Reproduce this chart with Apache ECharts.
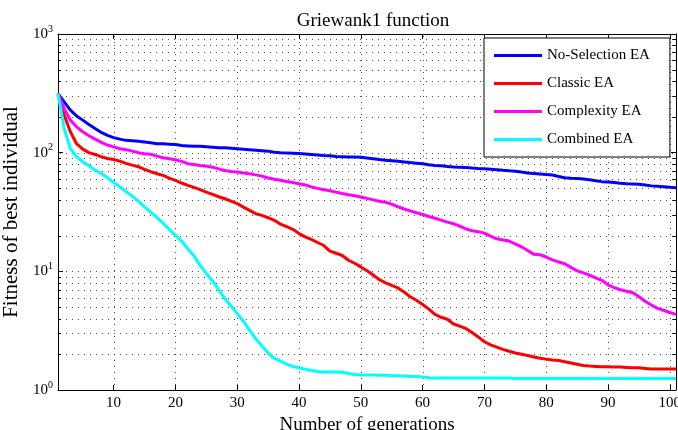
<!DOCTYPE html>
<html>
<head>
<meta charset="utf-8">
<script src="https://cdn.jsdelivr.net/npm/echarts@6/dist/echarts.min.js"></script>
<style>
  html, body { margin: 0; padding: 0; background: #fff; overflow: hidden; }
  #chart { width: 678px; height: 430px; }
</style>
</head>
<body>
<div id="chart"></div>
<script>
// generations on the x axis
const generations = [
  1, 2, 3, 4, 5, 6, 7, 8, 9, 10, 11, 12, 13, 14, 15, 16, 17, 18, 19, 20,
  21, 22, 23, 24, 25, 26, 27, 28, 29, 30, 31, 32, 33, 34, 35, 36, 37, 38, 39, 40,
  41, 42, 43, 44, 45, 46, 47, 48, 49, 50, 51, 52, 53, 54, 55, 56, 57, 58, 59, 60,
  61, 62, 63, 64, 65, 66, 67, 68, 69, 70, 71, 72, 73, 74, 75, 76, 77, 78, 79, 80,
  81, 82, 83, 84, 85, 86, 87, 88, 89, 90, 91, 92, 93, 94, 95, 96, 97, 98, 99, 100, 101
];

const noSelection = [
  315, 268, 228, 204, 188, 173, 160, 148, 140, 134, 130, 127, 126, 125, 123, 121, 119, 119, 118, 117,
  115, 114, 113, 113, 112, 111, 110, 110, 109, 108, 107, 106, 105, 104, 103, 101, 100, 99.5, 99, 98.3,
  97.5, 96.5, 95.5, 94.7, 94, 93, 92.5, 92, 91.8, 91.6, 90, 89, 87.5, 86.5, 85.5, 84.5, 83.5, 82.5, 81.6, 80.5,
  79, 78, 77.5, 76.5, 75.8, 75.5, 75, 74.3, 73.7, 73.2, 72.5, 71.8, 71, 70.3, 69.8, 68.6, 67.5, 66.8, 66, 65.6,
  64.8, 63, 61.5, 61, 60.7, 60, 59, 58, 57, 56.5, 56, 55.3, 54.7, 54.5, 54.3, 53.5, 52.5, 52, 51.5, 51, 50.7
];

const classic = [
  315, 207, 150, 119, 107, 100, 96.6, 92.3, 89.4, 87.7, 84.9, 81.2, 78.5, 76.1, 72.2, 69.1, 66.5, 64.3, 61, 58.4,
  55.5, 53, 51, 48.8, 46.5, 44.5, 42.5, 40.9, 39, 37.2, 34.8, 32.6, 30.6, 29.6, 28.3, 26.9, 25, 23.8, 22.6, 20.8,
  19.5, 18.6, 17.5, 16.5, 14.8, 14.2, 13.6, 12.4, 11.7, 10.9, 10.1, 9.3, 8.5, 8.0, 7.6, 7.25, 6.7, 6.1, 5.7, 5.26,
  4.8, 4.33, 4.1, 3.95, 3.6, 3.45, 3.3, 3.05, 2.8, 2.55, 2.4, 2.3, 2.2, 2.12, 2.05, 2.0, 1.95, 1.9, 1.85, 1.82,
  1.79, 1.77, 1.73, 1.69, 1.65, 1.61, 1.59, 1.58, 1.57, 1.57, 1.56, 1.56, 1.55, 1.54, 1.54, 1.52, 1.5, 1.5, 1.5, 1.5, 1.5
];

const complexity = [
  315, 235, 188, 165, 150, 139, 130, 122, 116, 112, 108, 106, 103, 100, 98, 97, 93.5, 90.6, 89, 87.2,
  84.4, 80.7, 79.5, 78, 77, 75.5, 73, 70.8, 69.5, 68.6, 67.5, 66.4, 65, 63.4, 61.1, 59.8, 58.6, 57.2, 56, 54.7,
  53.5, 51.5, 50, 48.7, 47.8, 46.5, 45.3, 44.2, 43.3, 42.3, 41.2, 40, 39, 38.2, 36.8, 35, 33.5, 32.3, 31.2, 30.2,
  29, 28, 27, 26, 25.2, 24, 22.8, 22, 21.6, 21, 19.8, 18.8, 18.4, 18, 17, 16.1, 15, 13.9, 13.8, 13.2,
  12.5, 12, 11.6, 10.8, 10.1, 9.7, 9.3, 8.8, 8.4, 7.7, 7.3, 7, 6.8, 6.6, 6.1, 5.6, 5.2, 4.87, 4.7, 4.5, 4.34
];

const combined = [
  315, 160, 108, 92.3, 83.8, 77.5, 71.2, 66.8, 61.5, 56.1, 51.6, 47, 43, 39, 35, 31.5, 28.5, 25.5, 22.5, 20.1,
  18, 15.5, 13.5, 11.2, 9.6, 8.3, 7.0, 5.9, 5.1, 4.4, 3.8, 3.2, 2.7, 2.35, 2.05, 1.85, 1.75, 1.65, 1.58, 1.54,
  1.5, 1.46, 1.43, 1.42, 1.42, 1.42, 1.41, 1.38, 1.35, 1.34, 1.34, 1.34, 1.33, 1.33, 1.32, 1.32, 1.31, 1.3, 1.3, 1.29,
  1.27, 1.26, 1.26, 1.26, 1.26, 1.26, 1.26, 1.26, 1.26, 1.26, 1.26, 1.26, 1.26, 1.26, 1.25, 1.25, 1.25, 1.25, 1.25, 1.25,
  1.25, 1.25, 1.25, 1.25, 1.25, 1.25, 1.25, 1.25, 1.25, 1.25, 1.25, 1.25, 1.25, 1.25, 1.25, 1.25, 1.25, 1.25, 1.25, 1.25, 1.25
];

const seriesNames = ['No-Selection EA', 'Classic EA', 'Complexity EA', 'Combined EA'];
const seriesColors = ['#0000ff', '#ff0000', '#ff00ff', '#00ffff'];

// tick values
const xTicks = [10, 20, 30, 40, 50, 60, 70, 80, 90, 100];
const yMajor = [10, 100];
const yMinor = [2, 3, 4, 5, 6, 7, 8, 9, 20, 30, 40, 50, 60, 70, 80, 90, 200, 300, 400, 500, 600, 700, 800, 900];

const X_MIN = 1;
const X_MAX = 101;
const FONT = '"Liberation Serif", "DejaVu Serif", serif';
const GRID_COLOR = '#222';
const GRID_DASH = [1, 5];

const chart = echarts.init(document.getElementById('chart'), null, { width: 678, height: 430 });

const toPairs = (vals) => vals.map((v, i) => [generations[i], v]);

// dotted grid lines (and minor ticks on the left/right borders)
const hGridData = yMajor.map(v => [X_MIN, v, 0]).concat(yMinor.map(v => [X_MIN, v, 1]));
const vGridData = xTicks.map(v => [v, 1]);

const hGridRender = (params, api) => {
  const cs = params.coordSys;
  const y = Math.round(api.coord([X_MIN, api.value(1)])[1]) + 0.5;
  const minor = api.value(2) === 1;
  const children = [{
    type: 'line',
    shape: { x1: cs.x + 2, y1: y, x2: cs.x + cs.width, y2: y },
    style: { stroke: GRID_COLOR, lineWidth: 1, lineDash: GRID_DASH, opacity: 0.8 }
  }];
  if (minor) {
    children.push({
      type: 'line',
      shape: { x1: cs.x, y1: y, x2: cs.x + 3, y2: y },
      style: { stroke: '#000', lineWidth: 1 }
    }, {
      type: 'line',
      shape: { x1: cs.x + cs.width - 3, y1: y, x2: cs.x + cs.width, y2: y },
      style: { stroke: '#000', lineWidth: 1 }
    });
  }
  return { type: 'group', children: children };
};

const vGridRender = (params, api) => {
  const cs = params.coordSys;
  const x = Math.round(api.coord([api.value(0), 1])[0]) + 0.5;
  return {
    type: 'line',
    shape: { x1: x, y1: cs.y + 2, x2: x, y2: cs.y + cs.height },
    style: { stroke: GRID_COLOR, lineWidth: 1, lineDash: GRID_DASH, opacity: 0.8 }
  };
};

const lineSeries = [noSelection, classic, complexity, combined].map((vals, i) => ({
  name: seriesNames[i],
  type: 'line',
  data: toPairs(vals),
  showSymbol: false,
  symbol: 'none',
  smooth: false,
  z: 5,
  lineStyle: { color: seriesColors[i], width: 3 },
  itemStyle: { color: seriesColors[i] },
  emphasis: { disabled: true }
}));

const option = {
  animation: false,
  backgroundColor: '#fff',
  title: {
    text: 'Griewank1 function',
    left: 368,
    top: 7,
    textAlign: 'center',
    textStyle: { fontFamily: FONT, fontSize: 19, fontWeight: 'normal', color: '#000' }
  },
  legend: {
    orient: 'vertical',
    left: 484,
    top: 38,
    padding: [10, 20, 10, 10],
    itemGap: 13,
    itemWidth: 48,
    itemHeight: 3,
    icon: 'rect',
    backgroundColor: '#fff',
    borderColor: '#000',
    borderWidth: 1,
    data: seriesNames,
    textStyle: { fontFamily: FONT, fontSize: 15, color: '#000', lineHeight: 15 }
  },
  grid: { left: 58, right: 2, top: 34, bottom: 40, containLabel: false, outerBoundsMode: 'none' },
  xAxis: [{
    type: 'value',
    min: X_MIN,
    max: X_MAX,
    position: 'bottom',
    name: 'Number of generations',
    nameLocation: 'middle',
    nameGap: 20,
    nameTextStyle: { fontFamily: FONT, fontSize: 19, color: '#000' },
    axisLine: { show: true, lineStyle: { color: '#000', width: 1 } },
    axisTick: { show: true, inside: true, length: 5, customValues: xTicks, lineStyle: { color: '#000' } },
    axisLabel: { customValues: xTicks, margin: 6, fontFamily: FONT, fontSize: 15, color: '#000' },
    splitLine: { show: false }
  }, {
    type: 'value',
    min: X_MIN,
    max: X_MAX,
    position: 'top',
    axisLine: { show: true, lineStyle: { color: '#000', width: 1 } },
    axisTick: { show: true, inside: true, length: 5, customValues: xTicks, lineStyle: { color: '#000' } },
    axisLabel: { show: false },
    splitLine: { show: false }
  }],
  yAxis: [{
    type: 'log',
    logBase: 10,
    min: 1,
    max: 1000,
    position: 'left',
    name: 'Fitness of best individual',
    nameLocation: 'middle',
    nameGap: 25,
    nameTextStyle: { fontFamily: FONT, fontSize: 21, color: '#000' },
    axisLine: { show: true, lineStyle: { color: '#000', width: 1 } },
    axisTick: { show: true, inside: true, length: 5, lineStyle: { color: '#000' } },
    axisLabel: {
      margin: 5,
      showMinLabel: true,
      showMaxLabel: true,
      formatter: (v) => '{b|10}{e|' + Math.round(Math.log10(v)) + '}',
      rich: {
        b: { fontFamily: FONT, fontSize: 15, color: '#000' },
        e: { fontFamily: FONT, fontSize: 10, color: '#000', padding: [0, 0, 10, 0] }
      }
    },
    splitLine: { show: false }
  }, {
    type: 'log',
    logBase: 10,
    min: 1,
    max: 1000,
    position: 'right',
    axisLine: { show: true, lineStyle: { color: '#000', width: 1 } },
    axisTick: { show: true, inside: true, length: 5, lineStyle: { color: '#000' } },
    axisLabel: { show: false },
    splitLine: { show: false }
  }],
  series: [{
    type: 'custom',
    name: 'hgrid',
    silent: true,
    z: 1,
    renderItem: hGridRender,
    data: hGridData,
    encode: { x: 0, y: 1 }
  }, {
    type: 'custom',
    name: 'vgrid',
    silent: true,
    z: 1,
    renderItem: vGridRender,
    data: vGridData,
    encode: { x: 0, y: 1 }
  }].concat(lineSeries)
};

chart.setOption(option);
</script>
</body>
</html>
